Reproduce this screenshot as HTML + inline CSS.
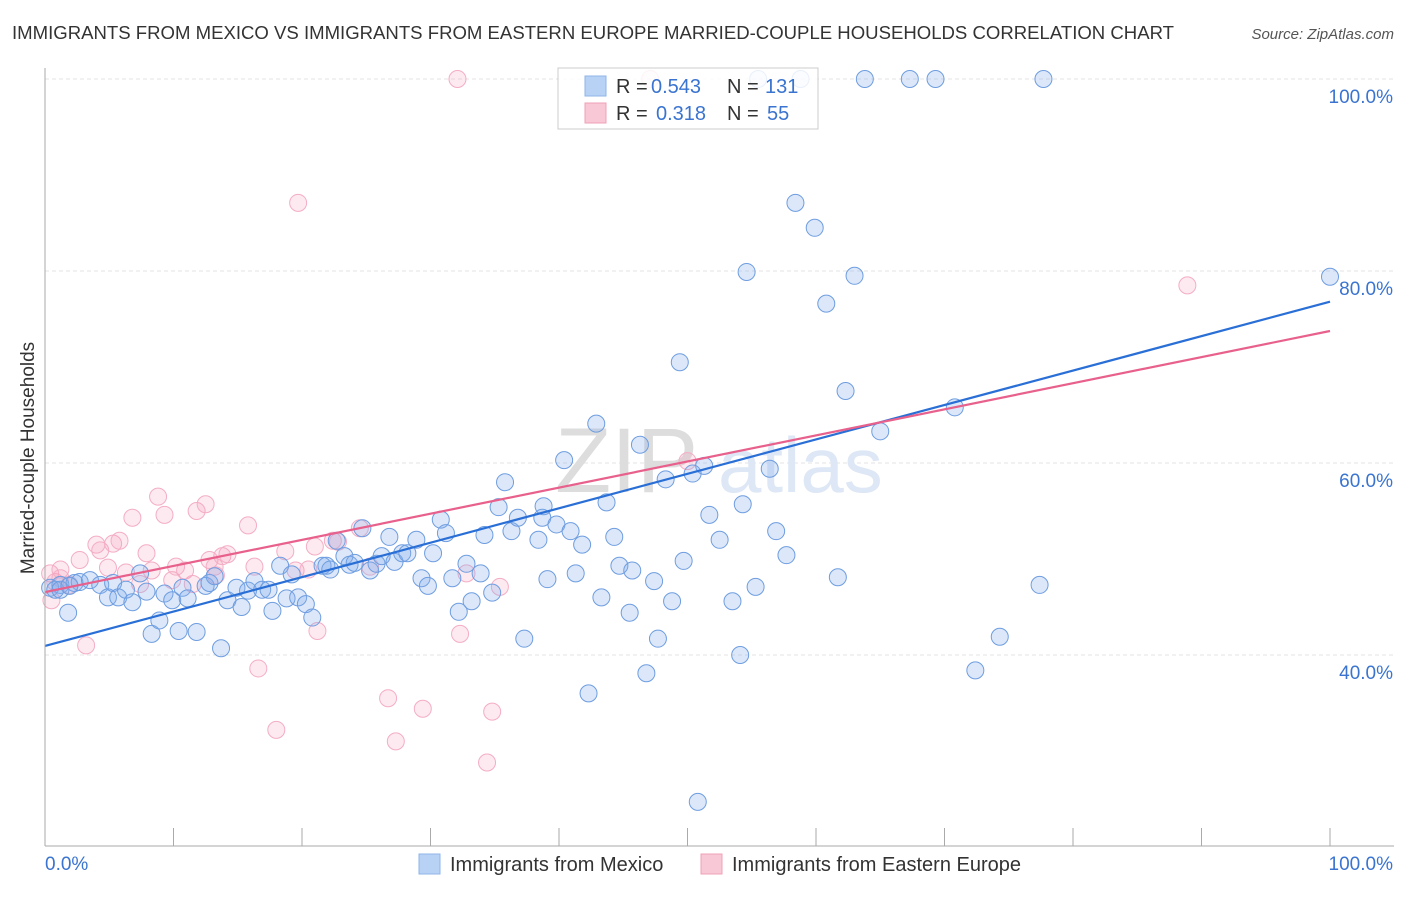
<!DOCTYPE html>
<html><head><meta charset="utf-8"><style>
body{margin:0;background:#fff;font-family:"Liberation Sans",sans-serif;}
svg text{font-family:"Liberation Sans",sans-serif;}
</style></head><body>
<svg id="chart" width="1406" height="892" viewBox="0 0 1406 892" xmlns="http://www.w3.org/2000/svg">
<text x="12" y="39" font-size="18" fill="#333" textLength="1162" lengthAdjust="spacingAndGlyphs">IMMIGRANTS FROM MEXICO VS IMMIGRANTS FROM EASTERN EUROPE MARRIED-COUPLE HOUSEHOLDS CORRELATION CHART</text>
<text x="1394" y="39" font-size="15" fill="#555" font-style="italic" text-anchor="end">Source: ZipAtlas.com</text>
<g id="grid"></g>
<text x="555" y="492" font-size="92" fill="#ddd" font-family="Liberation Serif">ZIP</text>
<text x="718" y="492" font-size="78" fill="#dde7f5">atlas</text>
<g id="pts"></g>
<g id="lines"></g>
<g id="axes"></g>
<text transform="translate(34,458) rotate(-90)" font-size="19" fill="#333" text-anchor="middle">Married-couple Households</text>
<g>
<rect x="558" y="68" width="260" height="61" fill="#fff" fill-opacity="0.85" stroke="#ccc"/>
<rect x="585" y="76" width="21" height="20" fill="#b8d2f5" stroke="#8fb4e8"/>
<rect x="585" y="103" width="21" height="20" fill="#f9c8d6" stroke="#f0a0b8"/>
<text y="93" font-size="20"><tspan x="616" fill="#333">R = </tspan><tspan x="651" fill="#3a74d0">0.543</tspan><tspan x="727" fill="#333">N = </tspan><tspan x="765" fill="#3a74d0">131</tspan></text>
<text y="120" font-size="20"><tspan x="616" fill="#333">R = </tspan><tspan x="656" fill="#3a74d0">0.318</tspan><tspan x="727" fill="#333">N = </tspan><tspan x="767" fill="#3a74d0">55</tspan></text>
</g>
<g>
<rect x="419" y="854" width="21" height="20" fill="#b8d2f5" stroke="#8fb4e8"/>
<text x="450" y="871" font-size="20" fill="#333">Immigrants from Mexico</text>
<rect x="701" y="854" width="21" height="20" fill="#f9c8d6" stroke="#f0a0b8"/>
<text x="732" y="871" font-size="20" fill="#333">Immigrants from Eastern Europe</text>
</g>
</svg>
<script>
const blueX=[0.4,0.8,1.2,1.8,2.3,2.7,3.5,4.3,4.9,5.3,5.7,6.3,6.8,7.4,7.9,8.3,8.9,9.3,9.9,10.4,10.7,11.1,11.8,12.5,12.8,13.2,13.7,14.2,14.9,15.3,15.8,16.3,16.9,17.4,17.7,18.3,18.8,19.2,19.7,20.3,20.8,21.6,21.9,22.2,22.7,23.3,23.7,24.1,24.7,25.3,25.8,26.2,26.8,27.2,27.8,28.2,28.9,29.3,29.8,30.2,30.8,31.2,31.7,32.2,32.8,33.2,33.9,34.2,34.8,35.3,35.8,36.3,36.8,37.3,38.4,38.7,38.8,39.1,39.8,40.4,40.9,41.3,41.8,42.3,42.9,43.3,43.7,44.3,44.7,45.5,45.7,46.3,46.8,47.4,47.7,48.3,48.8,49.4,49.7,50.4,50.8,51.3,51.7,52.5,53.5,54.1,54.3,54.6,55.3,56.4,56.9,57.7,58.4,59.9,60.8,61.7,62.3,63.0,65.0,70.8,72.4,74.3,77.4,100,77.7,69.3,67.3,63.8,58.8,55.5,1.2,1.9];
const blueY=[47.0,46.8,47.3,44.4,47.5,47.6,47.8,47.3,46.0,47.5,46.0,46.8,45.5,48.5,46.6,42.2,43.6,46.4,45.7,42.5,47.0,45.9,42.4,47.2,47.5,48.2,40.7,45.7,47.0,45.0,46.7,47.7,46.8,46.8,44.6,49.3,45.9,48.4,46.0,45.3,43.9,49.3,49.3,48.9,51.9,50.3,49.4,49.6,53.2,48.8,49.5,50.3,52.3,49.7,50.6,50.6,52.0,48.0,47.2,50.6,54.1,52.7,48.0,44.5,49.5,45.6,48.5,52.5,46.5,55.4,58.0,52.9,54.3,41.7,52.0,54.3,55.5,47.9,53.6,60.3,52.9,48.5,51.5,36.0,64.1,46.0,55.9,52.3,49.3,44.4,48.8,61.9,38.1,47.7,41.7,58.3,45.6,70.5,49.8,58.9,24.7,59.7,54.6,52.0,45.6,40.0,55.7,79.9,47.1,59.4,52.9,50.4,87.1,84.5,76.6,48.1,67.5,79.5,63.3,65.8,38.4,41.9,47.3,79.4,100,100,100,100,100,100,46.8,47.2];
const pinkX=[0.4,0.5,0.8,1.2,1.9,2.7,3.2,4.0,4.3,4.9,5.3,5.8,6.3,6.8,7.4,7.9,8.3,8.8,9.3,9.9,10.2,10.9,11.5,11.8,12.5,12.8,13.2,13.3,13.8,14.2,15.8,16.3,16.6,18.0,18.7,19.5,19.7,20.5,21.0,21.2,22.4,22.8,24.5,25.3,26.7,27.3,29.4,32.1,32.3,32.8,34.4,34.8,35.4,50.0,88.9,47.1,1.2];
const pinkY=[48.5,45.7,47.6,48.9,47.3,49.9,41.0,51.5,50.9,49.1,51.6,51.9,48.6,54.3,47.4,50.6,48.8,56.5,54.6,47.8,49.2,48.8,47.4,55.0,55.7,49.9,49.2,48.3,50.3,50.5,53.5,49.2,38.6,32.2,50.8,48.8,87.1,48.9,51.3,42.5,51.9,51.8,53.2,49.2,35.5,31.0,34.4,100,42.2,48.5,28.8,34.1,47.1,60.2,78.5,100,48.0];
const blueTrend=[40.94,76.8];
const pinkTrend=[46.56,73.75];
const yTicks=[40,60,80,100];
const NS='http://www.w3.org/2000/svg';
const X0=45,X1=1330,Y100=79,PPU=9.6;
const sx=v=>X0+(X1-X0)*v/100;
const sy=v=>Y100+(100-v)*PPU;
function mk(tag,attrs,parent){const e=document.createElementNS(NS,tag);for(const k in attrs)e.setAttribute(k,attrs[k]);parent.appendChild(e);return e;}
const grid=document.getElementById('grid'),axes=document.getElementById('axes'),pts=document.getElementById('pts'),lines=document.getElementById('lines');
yTicks.forEach(t=>{
 const l=mk('line',{x1:X0,x2:1394,y1:sy(t),y2:sy(t),stroke:'#e3e3e3','stroke-dasharray':'4,3'},grid);
 
 
 const tx=mk('text',{x:1393,y:sy(t)+24,'font-size':19,fill:'#3a74d0','text-anchor':'end'},axes);
 tx.textContent=t.toFixed(1)+'%';
 
 
});
const ax=mk('line',{x1:X0,x2:X0,y1:68,y2:846,stroke:'#aaa'},axes);


const bx=mk('line',{x1:X0,x2:1394,y1:846,y2:846,stroke:'#aaa'},axes);


for(let i=1;i<=10;i++){
 const tk=mk('line',{x1:sx(i*10),x2:sx(i*10),y1:828,y2:846,stroke:'#aaa'},axes);
 
 
}
const xl=mk('text',{x:45,y:870,'font-size':19,fill:'#3a74d0'},axes);xl.textContent='0.0%';


const xr=mk('text',{x:1393,y:870,'font-size':19,fill:'#3a74d0','text-anchor':'end'},axes);xr.textContent='100.0%';


function drawPts(xs,ys,fill,stroke,name){
 xs.forEach((x,i)=>{
  const c=mk('circle',{cx:sx(x),cy:sy(ys[i]),r:8.5,fill:fill,stroke:stroke,'stroke-width':1},pts);
  
  
 });
}
drawPts(pinkX,pinkY,'rgba(244,160,188,0.22)','#f4adc4','eastern-europe');
drawPts(blueX,blueY,'rgba(130,172,238,0.28)','#6e9de0','mexico');
const bl=mk('line',{x1:sx(0),y1:sy(blueTrend[0]),x2:sx(100),y2:sy(blueTrend[1]),stroke:'#2a6fd6','stroke-width':2.2},lines);


const pl=mk('line',{x1:sx(0),y1:sy(pinkTrend[0]),x2:sx(100),y2:sy(pinkTrend[1]),stroke:'#e8608c','stroke-width':2.2},lines);


</script>
</body></html>
